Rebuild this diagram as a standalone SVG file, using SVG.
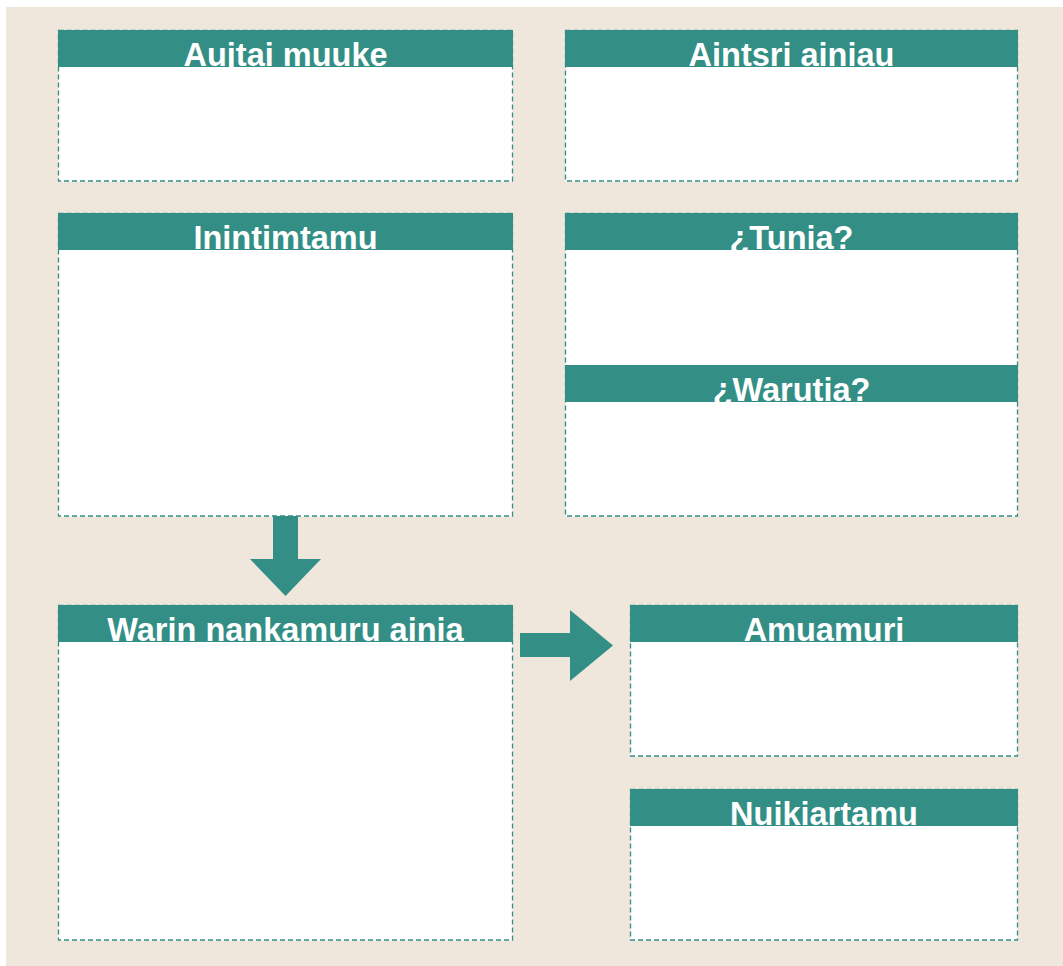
<svg xmlns="http://www.w3.org/2000/svg" width="1063" height="966" viewBox="0 0 1063 966">
<style>
.body{fill:#ffffff;stroke:#ffffff;stroke-width:1}
.border{fill:none;stroke:#338f86;stroke-width:1.3;stroke-dasharray:5 3}
.hdr{fill:#338f86}
.t{font-family:"Liberation Sans",Arial,sans-serif;font-weight:bold;font-size:32.5px;fill:#ffffff;text-anchor:middle}
.arr{fill:#338f86}
</style>
<rect x="6" y="7" width="1057" height="959" fill="#efe7dc"/>
<g id="aujtai-muuke">
<rect class="hdr" x="58" y="30" width="455" height="37.5"/>
<text class="t" x="285.5" y="66">Aujtai muuke</text>
<rect class="body" x="59" y="67.5" width="453" height="113.5"/>
<rect class="border" x="58.5" y="30.5" width="454" height="150.5"/>
</g>
<g id="aintsri-ainiau">
<rect class="hdr" x="565" y="30" width="453" height="37.5"/>
<text class="t" x="791.5" y="66">Aintsri ainiau</text>
<rect class="body" x="566" y="67.5" width="451" height="113.5"/>
<rect class="border" x="565.5" y="30.5" width="452" height="150.5"/>
</g>
<g id="inintimtamu">
<rect class="hdr" x="58" y="213" width="455" height="37.5"/>
<text class="t" x="285.5" y="249">Inintimtamu</text>
<rect class="body" x="59" y="250.5" width="453" height="265.5"/>
<rect class="border" x="58.5" y="213.5" width="454" height="302.5"/>
</g>
<g id="tunia-warutia">
<rect class="hdr" x="565" y="213" width="453" height="37.5"/>
<text class="t" x="791.5" y="249">¿Tunia?</text>
<rect class="body" x="566" y="250.5" width="451" height="114.5"/>
<rect class="hdr" x="565" y="365" width="453" height="37.5"/>
<text class="t" x="791.5" y="401">¿Warutia?</text>
<rect class="body" x="566" y="402.5" width="451" height="113.5"/>
<rect class="border" x="565.5" y="213.5" width="452" height="302.5"/>
</g>
<g id="warin-nankamuru-ainia">
<rect class="hdr" x="58" y="605" width="455" height="37.5"/>
<text class="t" x="285.5" y="641">Warin nankamuru ainia</text>
<rect class="body" x="59" y="642.5" width="453" height="297.5"/>
<rect class="border" x="58.5" y="605.5" width="454" height="334.5"/>
</g>
<g id="amuamuri">
<rect class="hdr" x="630" y="605" width="388" height="37.5"/>
<text class="t" x="824" y="641">Amuamuri</text>
<rect class="body" x="631" y="642.5" width="386" height="113.5"/>
<rect class="border" x="630.5" y="605.5" width="387" height="150.5"/>
</g>
<g id="nuikiartamu">
<rect class="hdr" x="630" y="789" width="388" height="37.5"/>
<text class="t" x="824" y="825">Nuikiartamu</text>
<rect class="body" x="631" y="826.5" width="386" height="113.5"/>
<rect class="border" x="630.5" y="789.5" width="387" height="150.5"/>
</g>
<g id="connectors">
<polygon class="arr" points="273,516 298,516 298,559 321,559 285.5,596 250,559 273,559"/>
<polygon class="arr" points="520,633 570,633 570,610 613,645.5 570,681 570,657 520,657"/>
</g>
</svg>
